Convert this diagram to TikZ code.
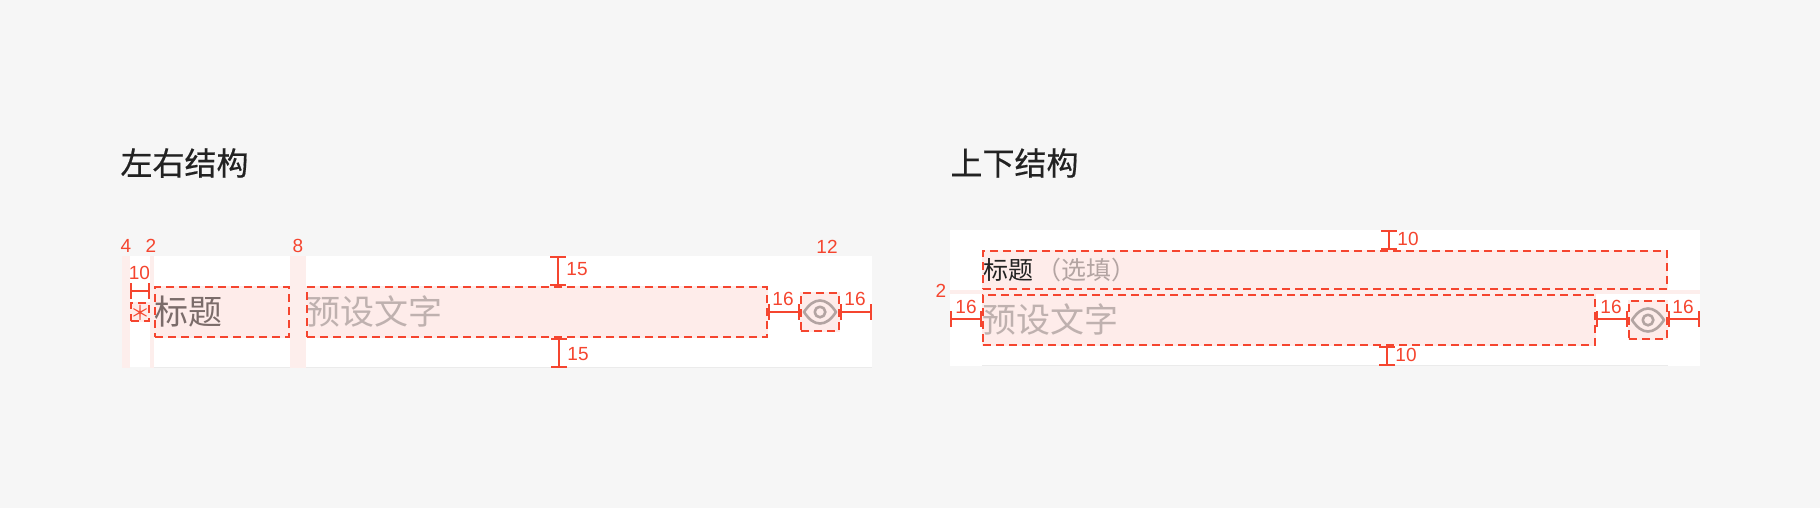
\documentclass[tikz,border=0pt]{standalone}
\usepackage{fontspec}
\setmainfont{Liberation Sans}
\newfontfamily\cjk{Noto Sans CJK SC}
\newfontfamily\cjkh[FakeBold=0.5]{Noto Sans CJK SC}
\usetikzlibrary{arrows.meta}
\definecolor{bgc}{HTML}{F6F6F6}
\definecolor{pinkc}{HTML}{FEECEA}
\definecolor{stripc}{HTML}{FDEEEC}
\definecolor{redc}{HTML}{F5452F}
\definecolor{linec}{HTML}{EBEBEB}
\definecolor{headc}{HTML}{222222}
\definecolor{titlec}{HTML}{7B6C6A}
\definecolor{holdc}{HTML}{BFB1AF}
\definecolor{eyec}{HTML}{B3A4A2}
\newcommand{\fs}[1]{\fontsize{#1}{#1}\selectfont}
\tikzset{
  x=1pt,y=-1pt,
  plain/.style={inner sep=0pt,outer sep=0pt},
  cardbox/.style={fill=white,draw=none},
  stripbox/.style={fill=stripc,draw=none},
  zonebox/.style={fill=pinkc,draw=none},
  dashbox/.style={draw=redc,line width=2.2pt,dash pattern=on 8pt off 5pt},
  dimline/.style={draw=redc,line width=2.2pt,{Bar[width=16pt,line width=2.2pt]}-{Bar[width=16pt,line width=2.2pt]}},
  num/.style={plain,text=redc,font=\fs{19}},
  head/.style={plain,text=headc,anchor=west,font=\cjkh\fs{32}},
  bodytext/.style={plain,anchor=west,font=\cjk},
  eyeline/.style={draw=eyec,line width=2.6pt,line join=round}
}
\begin{document}
\begin{tikzpicture}
\useasboundingbox[fill=bgc] (0,0) rectangle (1820,508);
% cards
\fill[cardbox] (122,256) rectangle (872,367);
\draw[linec,line width=1pt] (154,367.5) -- (872,367.5);
\fill[cardbox] (950,230) rectangle (1700,366);
\draw[linec,line width=1pt] (982,365.5) -- (1668,365.5);
% spacing strips
\fill[stripbox] (122,256) rectangle (130,368);
\fill[stripbox] (150,256) rectangle (154,368);
\fill[stripbox] (290,256) rectangle (306,368);
\fill[stripbox] (950,290) rectangle (1700,294);
% zones
\fill[zonebox] (130,302) rectangle (150,322);
\fill[zonebox] (154,286) rectangle (290,338);
\fill[zonebox] (306,286) rectangle (768,338);
\fill[zonebox] (800,292) rectangle (840,332);
\fill[zonebox] (982,250) rectangle (1668,290);
\fill[zonebox] (982,294) rectangle (1596,346);
\fill[zonebox] (1628,300) rectangle (1668,340);
% headings
\node[head] (h1) at (120.5,163) {左右结构};
\node[head] (h2) at (950.5,163) {上下结构};
% texts
\node[plain,text=redc,font=\cjk\fs{20}] (star) at (140,313) {＊};
\node[bodytext,text=titlec,font=\cjk\fs{34}] (t1) at (154,312) {标题};
\node[bodytext,text=holdc,font=\cjk\fs{34}] (p1) at (306,312) {预设文字};
\node[bodytext,text=headc,font=\cjk\fs{25}] (t2) at (983,270) {标题};
\node[bodytext,text=eyec,font=\cjk\fs{25},anchor=west] (t3) at (1036.5,270) {（选填）};
\node[bodytext,text=holdc,font=\cjk\fs{34}] (p2) at (982,320) {预设文字};
% eyes
\begin{scope}[shift={(820,312)}]
\draw[eyeline] (-16,0) .. controls (-11,-7.5) and (-6,-11.5) .. (0,-11.5) .. controls (6,-11.5) and (11,-7.5) .. (16,0) .. controls (11,7.5) and (6,11.5) .. (0,11.5) .. controls (-6,11.5) and (-11,7.5) .. (-16,0) -- cycle;
\draw[eyeline] (0,0) circle (5.3);
\end{scope}
\begin{scope}[shift={(1648,320)}]
\draw[eyeline] (-16,0) .. controls (-11,-7.5) and (-6,-11.5) .. (0,-11.5) .. controls (6,-11.5) and (11,-7.5) .. (16,0) .. controls (11,7.5) and (6,11.5) .. (0,11.5) .. controls (-6,11.5) and (-11,7.5) .. (-16,0) -- cycle;
\draw[eyeline] (0,0) circle (5.3);
\end{scope}
% dashed frames
\node[dashbox,plain,draw,anchor=north west,minimum width=18pt,minimum height=18pt] (fstar) at (131,303) {};
\node[dashbox,plain,draw,anchor=north west,minimum width=134pt,minimum height=50pt] (ftitle) at (155,287) {};
\node[dashbox,plain,draw,anchor=north west,minimum width=460pt,minimum height=50pt] (finput) at (307,287) {};
\node[dashbox,plain,draw,anchor=north west,minimum width=38pt,minimum height=38pt] (feye) at (801,293) {};
\node[dashbox,plain,draw,anchor=north west,minimum width=684pt,minimum height=38pt] (gtitle) at (983,251) {};
\node[dashbox,plain,draw,anchor=north west,minimum width=612pt,minimum height=50pt] (ginput) at (983,295) {};
\node[dashbox,plain,draw,anchor=north west,minimum width=38pt,minimum height=38pt] (geye) at (1629,301) {};
% dimension ends
\coordinate (a1) at (130,291); \coordinate (a2) at (150,291);
\coordinate (b1) at (558,256); \coordinate (b2) at (558,286);
\coordinate (c1) at (559,338); \coordinate (c2) at (559,368);
\coordinate (d1) at (768,312); \coordinate (d2) at (800,312);
\coordinate (e1) at (840,312); \coordinate (e2) at (872,312);
\coordinate (f1) at (1389,230); \coordinate (f2) at (1389,250);
\coordinate (g1) at (1387,346); \coordinate (g2) at (1387,366);
\coordinate (k1) at (950,319); \coordinate (k2) at (982,319);
\coordinate (m1) at (1596,319); \coordinate (m2) at (1628,319);
\coordinate (n1) at (1668,319); \coordinate (n2) at (1700,319);
\draw[dimline] (a1) -- (a2);
\draw[dimline] (b1) -- (b2);
\draw[dimline] (c1) -- (c2);
\draw[dimline] (d1) -- (d2);
\draw[dimline] (e1) -- (e2);
\draw[dimline] (f1) -- (f2);
\draw[dimline] (g1) -- (g2);
\draw[dimline] (k1) -- (k2);
\draw[dimline] (m1) -- (m2);
\draw[dimline] (n1) -- (n2);
% numbers
\node[num] (n4) at (126,246) {4};
\node[num] (n2a) at (151,246) {2};
\node[num] (n8) at (298,246) {8};
\node[num] (n12) at (827,247) {12};
\node[num] (n10a) at (139.5,273) {10};
\node[num] (n15a) at (577,269) {15};
\node[num] (n15b) at (578,354) {15};
\node[num] (n16a) at (783,299) {16};
\node[num] (n16b) at (855,299) {16};
\node[num] (n10b) at (1408,239) {10};
\node[num] (n10c) at (1406,355) {10};
\node[num] (n2b) at (941,291) {2};
\node[num] (n16c) at (966,307) {16};
\node[num] (n16d) at (1611,307) {16};
\node[num] (n16e) at (1683,307) {16};
\end{tikzpicture}
\end{document}
